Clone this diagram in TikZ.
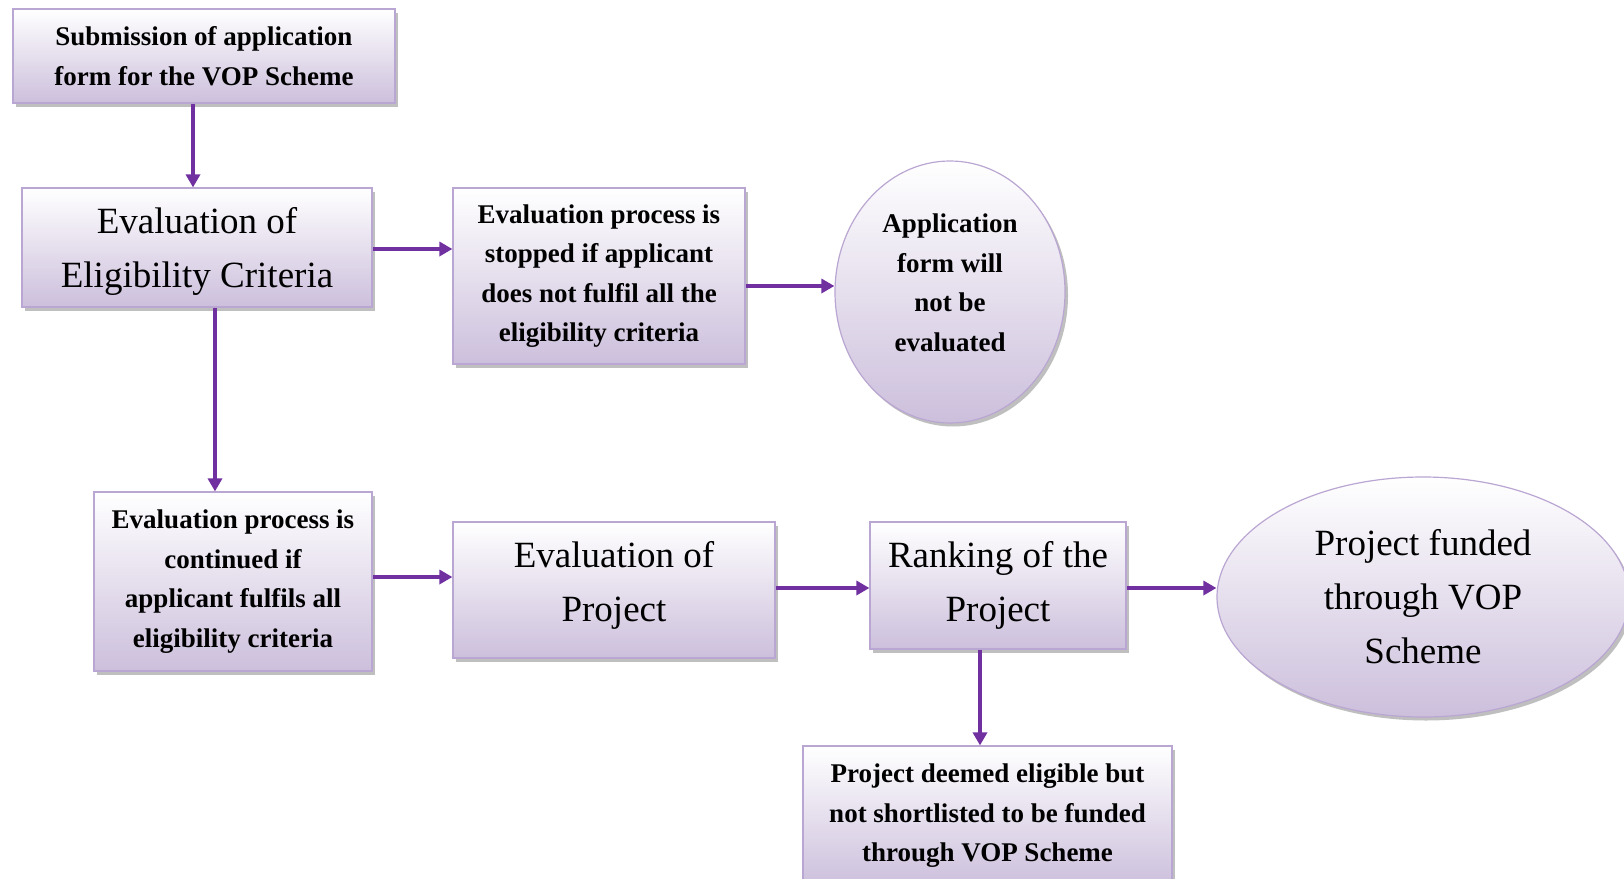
\documentclass[tikz,border=0pt]{standalone}
\usepackage{fontspec}
\setmainfont{Liberation Serif}
\usetikzlibrary{shadows,arrows.meta,shapes.geometric}
\definecolor{boxbot}{RGB}{204,191,220}
\definecolor{boxline}{RGB}{186,166,210}
\definecolor{arrowc}{RGB}{112,48,160}
\begin{document}
\begin{tikzpicture}[x=1pt,y=-1pt,
  shp/.style={draw=boxline, line width=1.2pt, top color=white, bottom color=boxbot,
    drop shadow={shadow xshift=3pt,shadow yshift=-3.5pt,fill=black!45,opacity=0.55},
    align=center, inner sep=0pt},
  rbox/.style={shp, rectangle},
  ebox/.style={shp, ellipse},
  small/.style={font=\fontsize{27}{39.5}\selectfont\bfseries},
  big/.style={font=\fontsize{37}{54}\selectfont},
  txt/.style={align=center, inner sep=0pt},
  arr/.style={draw=arrowc, line width=3.8pt, -{Triangle[length=13pt,width=14pt]}}
]
\useasboundingbox[fill=white] (0,0) rectangle (1624,878);

\node[rbox, small, minimum width=382pt, minimum height=94pt] (sub) at (204,56)
  {Submission of application\\form for the VOP Scheme};
\node[rbox, minimum width=350pt, minimum height=119pt] (elig) at (197,247.5) {};
\node[txt, big] (eligtxt) at (197,251.5) {Evaluation of\\Eligibility Criteria};
\node[rbox, small, minimum width=292pt, minimum height=176pt] (stop) at (599,276)
  {Evaluation process is\\stopped if applicant\\does not fulfil all the\\eligibility criteria};
\node[ebox, minimum width=230pt, minimum height=262pt] (app) at (950,292) {};
\node[txt, small] (apptxt) at (950,283) {Application\\form will\\not be\\evaluated};
\node[rbox, small, minimum width=278pt, minimum height=179pt] (cont) at (233,581.5)
  {Evaluation process is\\continued if\\applicant fulfils all\\eligibility criteria};
\node[rbox, minimum width=322pt, minimum height=136pt] (evp) at (614,590) {};
\node[txt, big] (evptxt) at (614,585) {Evaluation of\\Project};
\node[rbox, big, minimum width=256pt, minimum height=127pt] (rank) at (998,585.5)
  {Ranking of the\\Project};
\node[ebox, big, minimum width=412pt, minimum height=240pt] (fund) at (1423,597)
  {Project funded\\through VOP\\Scheme};
\node[rbox, small, minimum width=369pt, minimum height=140pt] (bot) at (987.5,816)
  {Project deemed eligible but\\not shortlisted to be funded\\through VOP Scheme};

\draw[arr] (sub.south -| 193,0) -- (elig.north -| 193,0);
\draw[arr] (elig.east |- 0,249) -- (stop.west |- 0,249);
\draw[arr] (elig.south -| 215,0) -- (cont.north -| 215,0);
\draw[arr] (stop.east |- 0,286) -- (app.west |- 0,286);
\draw[arr] (cont.east |- 0,577) -- (evp.west |- 0,577);
\draw[arr] (evp.east |- 0,588) -- (rank.west |- 0,588);
\draw[arr] (rank.east |- 0,588) -- (fund.west |- 0,588);
\draw[arr] (rank.south -| 980,0) -- (bot.north -| 980,0);
\end{tikzpicture}
\end{document}
